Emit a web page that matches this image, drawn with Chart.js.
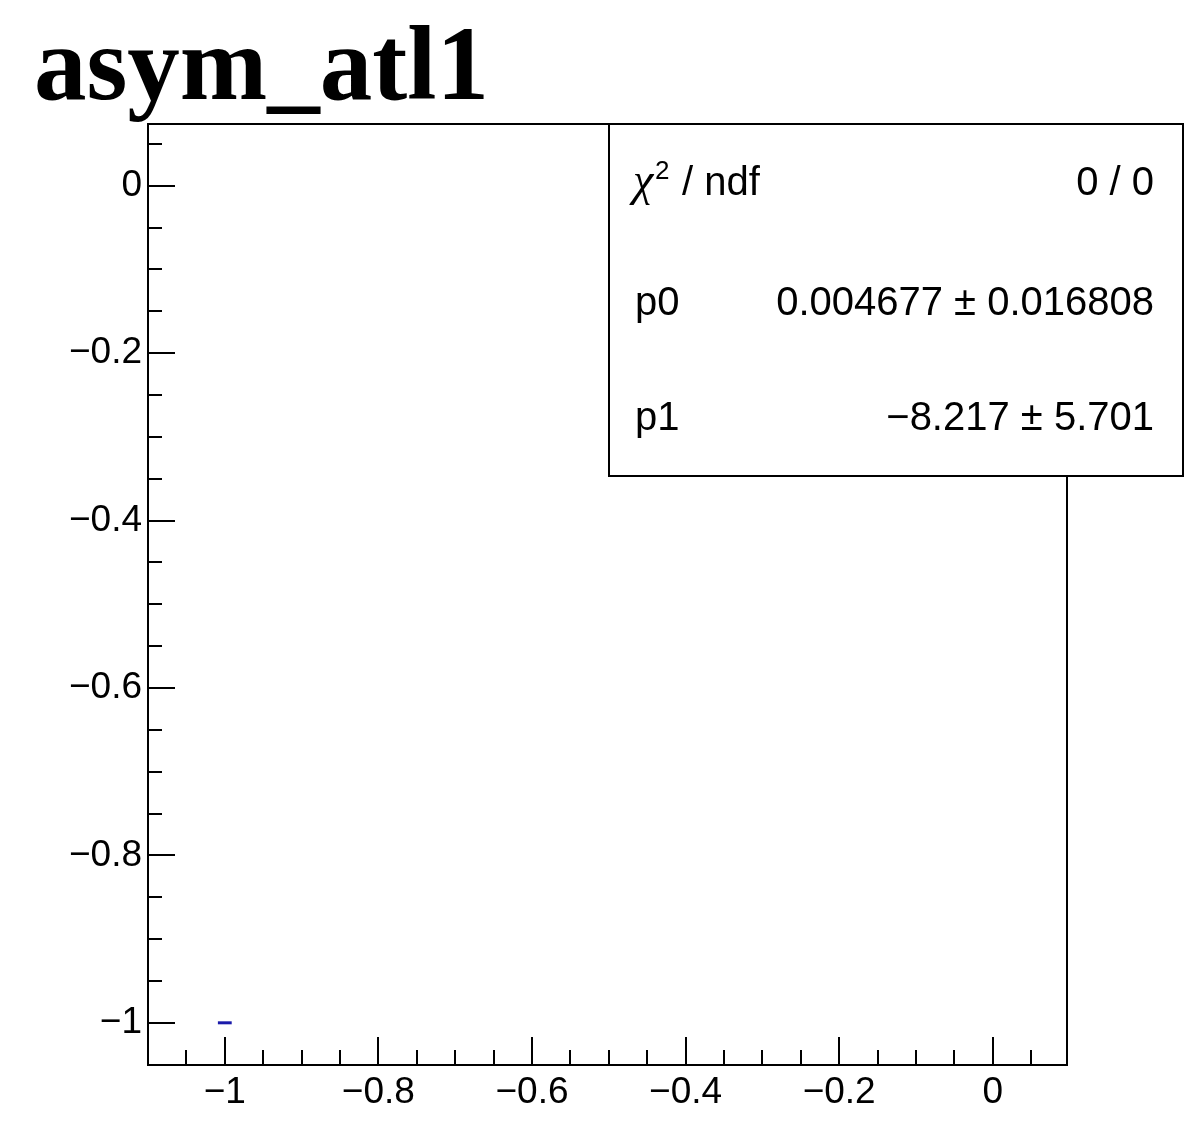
<!DOCTYPE html>
<html><head><meta charset="utf-8">
<script src="https://cdn.jsdelivr.net/npm/chart.js@4/dist/chart.umd.min.js"></script>
<style>html,body{margin:0;padding:0;background:#fff;}#wrap{width:1184px;height:1126px;}</style>
</head><body><div id="wrap"><canvas id="c" width="1184" height="1126"></canvas></div>
<script>
const chartTitle = 'asym_atl1';
const pointX = [-1];
const pointY = [-1];
const pointXErr = [0.009];
const xTickValues = [-1, -0.8, -0.6, -0.4, -0.2, 0];
const xTickLabels = ['\u22121', '\u22120.8', '\u22120.6', '\u22120.4', '\u22120.2', '0'];
const yTickValues = [0, -0.2, -0.4, -0.6, -0.8, -1];
const yTickLabels = ['0', '\u22120.2', '\u22120.4', '\u22120.6', '\u22120.8', '\u22121'];
const xMinorStep = 0.05;
const yMinorStep = 0.05;
const statsNames = ['\u03c7', 'p0', 'p1'];
const statsValues = ['0 / 0', '0.004677 \u00b1 0.016808', '\u22128.217 \u00b1 5.701'];

const labelFor = (vals, labs) => (v) => {
  const i = vals.findIndex(t => Math.abs(t - v) < 1e-9);
  return i >= 0 ? labs[i] : '';
};

const rootFrame = {
  id: 'rootFrame',
  afterDatasetsDraw(chart) {
    const {ctx, chartArea: a, scales: {x, y}} = chart;
    ctx.save();
    ctx.strokeStyle = '#000';
    ctx.lineWidth = 2;
    ctx.strokeRect(a.left, a.top, a.right - a.left, a.bottom - a.top);
    ctx.beginPath();
    const xs = Math.ceil(x.min / xMinorStep - 1e-9), xe = Math.floor(x.max / xMinorStep + 1e-9);
    for (let k = xs; k <= xe; k++) {
      const v = k * xMinorStep;
      const major = xTickValues.some(t => Math.abs(t - v) < 1e-9);
      const px = Math.round(x.getPixelForValue(v));
      if (px < a.left + 3 || px > a.right - 3) continue;
      ctx.moveTo(px, a.bottom);
      ctx.lineTo(px, a.bottom - (major ? 28 : 15));
    }
    const ys = Math.ceil(y.min / yMinorStep - 1e-9), ye = Math.floor(y.max / yMinorStep + 1e-9);
    for (let k = ys; k <= ye; k++) {
      const v = k * yMinorStep;
      const major = yTickValues.some(t => Math.abs(t - v) < 1e-9);
      const py = Math.round(y.getPixelForValue(v));
      if (py < a.top + 3 || py > a.bottom - 3) continue;
      ctx.moveTo(a.left, py);
      ctx.lineTo(a.left + (major ? 27 : 14), py);
    }
    ctx.stroke();
    ctx.restore();
  },
  afterDraw(chart) {
    const ctx = chart.ctx;
    ctx.save();
    // title
    ctx.fillStyle = '#000';
    ctx.font = 'bold 105px "Liberation Serif"';
    ctx.textBaseline = 'alphabetic';
    ctx.textAlign = 'left';
    ctx.fillText(chartTitle, 34, 99);
    // stats box
    const bx = 609, by = 124, bw = 1183 - 609, bh = 476 - 124;
    ctx.fillStyle = '#fff';
    ctx.fillRect(bx, by, bw, bh);
    ctx.strokeStyle = '#000';
    ctx.lineWidth = 2;
    ctx.strokeRect(bx, by, bw, bh);
    ctx.fillStyle = '#000';
    const baselines = [195, 315, 430];
    statsNames.forEach((n, i) => {
      ctx.textAlign = 'left';
      if (i === 0) {
        ctx.font = 'italic 46px "Liberation Serif"';
        ctx.fillText(n, 633, baselines[i]);
        ctx.font = '26px "Liberation Sans"';
        ctx.fillText('2', 655, baselines[i] - 16);
        ctx.font = '40px "Liberation Sans"';
        ctx.fillText(' / ndf', 671, baselines[i]);
      } else {
        ctx.font = '40px "Liberation Sans"';
        ctx.fillText(n, 635, baselines[i]);
      }
      ctx.font = '40px "Liberation Sans"';
      ctx.textAlign = 'right';
      ctx.fillText(statsValues[i], 1154, baselines[i]);
    });
    ctx.restore();
  }
};

const errData = pointX.map((x, i) => [
  {x: x - pointXErr[i], y: pointY[i]},
  {x: x + pointXErr[i], y: pointY[i]}
]);

new Chart(document.getElementById('c'), {
  type: 'scatter',
  data: {
    datasets: errData.map(d => ({
      data: d, showLine: true, borderColor: '#1a1aaa', borderWidth: 3,
      pointRadius: 0, fill: false
    }))
  },
  options: {
    responsive: false, animation: false, devicePixelRatio: 1,
    layout: {padding: {top: 124, right: 117, left: 0, bottom: 0}},
    plugins: {legend: {display: false}, tooltip: {enabled: false}, title: {display: false}},
    scales: {
      x: {
        type: 'linear', min: -1.1, max: 0.0967,
        grid: {display: false, drawTicks: false}, border: {display: false},
        afterBuildTicks: s => { s.ticks = xTickValues.map(v => ({value: v})); },
        afterFit: s => { s.height = 61; },
        ticks: {font: {family: 'Liberation Sans', size: 37}, color: '#000', padding: 6,
          maxRotation: 0, autoSkip: false, callback: labelFor(xTickValues, xTickLabels)}
      },
      y: {
        type: 'linear', min: -1.0504, max: 0.0738,
        grid: {display: false, drawTicks: false}, border: {display: false},
        afterBuildTicks: s => { s.ticks = yTickValues.map(v => ({value: v})); },
        afterFit: s => { s.width = 148; },
        ticks: {font: {family: 'Liberation Sans', size: 37}, color: '#000', padding: 6,
          autoSkip: false, callback: labelFor(yTickValues, yTickLabels)}
      }
    }
  },
  plugins: [rootFrame]
});
</script></body></html>
